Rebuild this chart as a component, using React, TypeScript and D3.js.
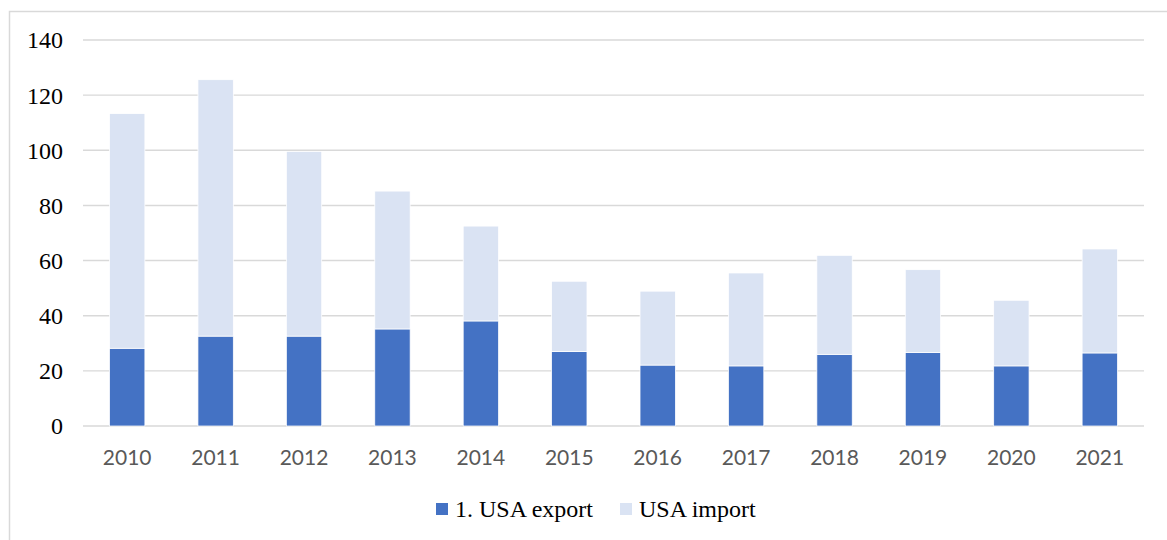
import { useEffect, useRef } from 'react'
import * as d3 from 'd3'

const years = ['2010', '2011', '2012', '2013', '2014', '2015', '2016', '2017', '2018', '2019', '2020', '2021']
const usaExport = [28.2, 32.6, 32.6, 35.2, 38.1, 27.0, 22.1, 21.8, 26.0, 26.7, 21.8, 26.5]
const usaImport = [85.1, 93.0, 67.0, 50.0, 34.4, 25.5, 26.8, 33.7, 35.9, 30.0, 23.8, 37.7]
const yTicks = [0, 20, 40, 60, 80, 100, 120, 140]
const seriesNames = ['1. USA export', 'USA import']
const seriesColors = ['#4472C4', '#DAE3F3']

export default function App() {
  const svgRef = useRef<SVGSVGElement>(null)

  useEffect(() => {
    const width = 1167
    const height = 540
    const margin = { top: 40, right: 23, bottom: 114, left: 83 }

    const svg = d3.select(svgRef.current)
      .attr('width', width)
      .attr('height', height)

    svg.selectAll('*').remove()

    // outer frame
    svg.append('rect')
      .attr('x', 9.5)
      .attr('y', 11.5)
      .attr('width', width)
      .attr('height', height)
      .attr('fill', 'white')
      .attr('stroke', '#d9d9d9')
      .attr('stroke-width', 1.5)

    const rows = years.map((year, i) => ({ year, exp: usaExport[i], imp: usaImport[i] }))
    const stacked = d3.stack<any>().keys(['exp', 'imp'])(rows)

    const x = d3.scaleBand()
      .domain(years)
      .range([margin.left, width - margin.right])
      .paddingInner(0.6)
      .paddingOuter(0.3)

    const y = d3.scaleLinear()
      .domain([0, 140])
      .range([height - margin.bottom, margin.top])

    const g = svg.append('g')

    // gridlines
    g.selectAll('.grid')
      .data(yTicks)
      .join('line')
      .attr('x1', margin.left)
      .attr('x2', width - margin.right)
      .attr('y1', d => y(d))
      .attr('y2', d => y(d))
      .attr('stroke', '#d9d9d9')
      .attr('stroke-width', 1.4)

    // y labels
    g.selectAll('.ylab')
      .data(yTicks)
      .join('text')
      .attr('x', 63)
      .attr('y', d => y(d))
      .attr('dy', '0.35em')
      .attr('text-anchor', 'end')
      .attr('font-family', 'Liberation Serif, serif')
      .attr('font-size', 24)
      .attr('fill', '#000')
      .text(d => d)

    // bars
    g.selectAll('.series')
      .data(stacked)
      .join('g')
      .attr('fill', (d, i) => seriesColors[i])
      .selectAll('rect')
      .data(d => d)
      .join('rect')
      .attr('x', d => x(d.data.year)!)
      .attr('y', d => y(d[1]))
      .attr('width', x.bandwidth())
      .attr('height', d => y(d[0]) - y(d[1]))
      .attr('stroke', 'white')
      .attr('stroke-width', 0.75)

    // x labels
    g.selectAll('.xlab')
      .data(years)
      .join('text')
      .attr('x', d => x(d)! + x.bandwidth() / 2)
      .attr('y', 465)
      .attr('text-anchor', 'middle')
      .attr('font-family', 'Lato, "Open Sans", sans-serif')
      .attr('font-size', 21)
      .attr('fill', '#595959')
      .text(d => d)

    // legend
    const legendX = [436, 620]
    const legend = g.selectAll('.legend')
      .data(seriesNames)
      .join('g')
      .attr('transform', (d, i) => `translate(${legendX[i]},503)`)

    legend.append('rect')
      .attr('width', 12)
      .attr('height', 12)
      .attr('fill', (d, i) => seriesColors[i])

    legend.append('text')
      .attr('x', 19)
      .attr('y', 14)
      .attr('font-family', 'Liberation Serif, serif')
      .attr('font-size', 24)
      .attr('fill', '#000')
      .text(d => d)
  }, [])

  return (
    <div style={{ position: 'absolute', left: 0, top: 0 }}>
      <svg ref={svgRef}></svg>
    </div>
  )
}
